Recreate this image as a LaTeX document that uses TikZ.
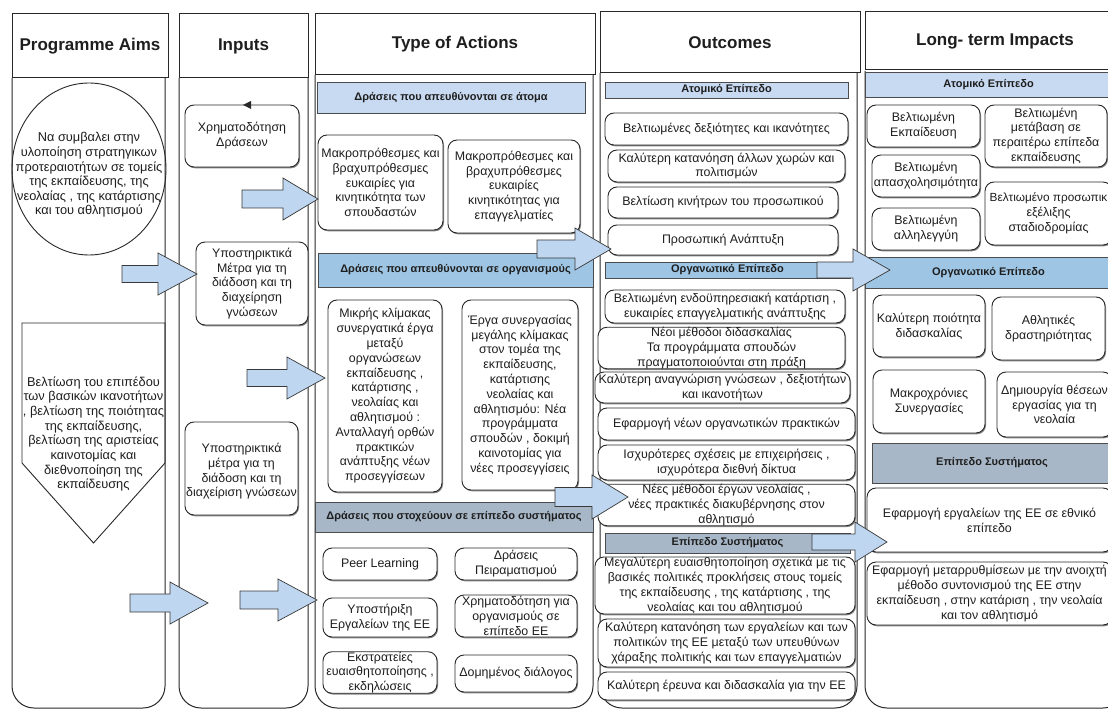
\documentclass[tikz,border=0pt]{standalone}
\usepackage{fontspec}
\setmainfont{Liberation Sans}
\usetikzlibrary{shadows,shapes.geometric}
\definecolor{barA}{RGB}{200,218,242}
\definecolor{barB}{RGB}{158,198,228}
\definecolor{barC}{RGB}{168,183,199}
\definecolor{arrF}{RGB}{190,214,240}
\definecolor{lineC}{RGB}{40,40,40}
\definecolor{txtC}{RGB}{30,30,30}
\tikzset{
  hdr/.style={draw=lineC, line width=1pt, text=txtC, font=\fontsize{17}{20}\selectfont\bfseries},
  colbody/.style={draw=lineC, line width=1pt, rounded corners=22pt},
  rb/.style={draw=lineC, line width=0.9pt, rounded corners=9pt, fill=white, align=center, inner sep=0pt, text=txtC,
    font=\fontsize{12.4}{14.8}\selectfont,
    drop shadow={shadow xshift=1pt,shadow yshift=-1.3pt,fill=black!60,opacity=.8}},
  bar/.style={draw=gray!60!black, line width=0.6pt, inner sep=0pt, text=txtC,
    font=\fontsize{11}{12}\selectfont\bfseries,
    drop shadow={shadow xshift=1pt,shadow yshift=-1.3pt,fill=black!50,opacity=.6}},
  barr/.style={draw=gray!45!black, line width=0.7pt, fill=arrF, line join=miter},
  plain/.style={draw=lineC, line width=0.9pt},
  ptext/.style={align=center, text=txtC, font=\fontsize{12.8}{14.6}\selectfont},
}
\newcommand\bx[6]{\node[rb, minimum width={(#4)-(#2)}, minimum height={(#5)-(#3)}] (#1) at ({((#2)+(#4))/2},{((#3)+(#5))/2}) {#6};}
\newcommand\br[7]{\node[bar, fill=#7, minimum width={(#4)-(#2)}, minimum height={(#5)-(#3)}] (#1) at ({((#2)+(#4))/2},{((#3)+(#5))/2}) {#6};}
\newcommand\blockarrow[6]{\draw[barr] (#1,#4-#5) -- (#2,#4-#5) -- (#2,#4-#6) -- (#3,#4) -- (#2,#4+#6) -- (#2,#4+#5) -- (#1,#4+#5) -- cycle;}
\begin{document}
\begin{tikzpicture}[x=1pt,y=-1pt]
\useasboundingbox[fill=white] (0,0) rectangle (1108,711);
% column headers
\node[hdr, minimum width=156, minimum height=64] (h1) at (90,46) {Programme Aims};
\node[hdr, minimum width=129, minimum height=64] (h2) at (243.5,46) {Inputs};
\node[hdr, minimum width=280, minimum height=61] (h3) at (455,44.5) {Type of Actions};
\node[hdr, minimum width=260, minimum height=61] (h4) at (730,42.5) {Outcomes};
\node[hdr, minimum width=260, minimum height=58] (h5) at (995,41) {Long- term Impacts};
% column bodies
\draw[colbody] (12,78) -- (12,708) -- (165,708) -- (165,78);
\draw[colbody] (179,78) -- (179,708) -- (308,708) -- (308,78);
\draw[colbody] (315,75) -- (315,708) -- (593,708) -- (593,75);
\draw[colbody] (600,73) -- (600,708) -- (857,708) -- (857,73);
\draw[colbody] (865,71) -- (865,708) -- (1125,708) -- (1125,71);
% programme aims
\node[plain, ellipse, minimum width=154, minimum height=172, inner sep=0pt] (aim1) at (89,169) {};
\node[ptext] (aim1t) at (89,175) {Να συμβαλει στην\\υλοποίηση στρατηγικων\\προτεραιοτήτων σε τομείς\\της εκπαίδευσης, της\\νεολαίας , της κατάρτισης\\και του αθλητισμού};
\draw[plain] (22,323) -- (165,323) -- (165,463) -- (93.5,543) -- (22,463) -- cycle;
\node[ptext] (aim2t) at (93.5,434) {Βελτίωση του επιπέδου\\των βασικών ικανοτήτων\\, βελτίωση της ποιότητας\\της εκπαίδευσης,\\βελτίωση της αριστείας\\καινοτομίας και\\διεθνοποίηση της\\εκπαίδευσης};
% inputs
\bx{in1}{185}{105}{299}{167}{Χρηματοδότηση\\Δράσεων}
\fill[lineC] (243,105) -- (251,101) -- (251,109) -- cycle;
\bx{in2}{196}{242}{308}{325}{Υποστηρικτικά\\Μέτρα για τη\\διάδοση και τη\\διαχείρηση\\γνώσεων}
\bx{in3}{185}{422}{298}{515}{\rule{0pt}{6pt}\\[-6pt]Υποστηρικτικά\\μέτρα για τη\\διάδοση και τη\\διαχείριση γνώσεων}
% type of actions
\br{b1}{317}{82}{585}{113}{Δράσεις που απευθύνονται σε άτομα}{barA}
\bx{t1}{318}{135}{443}{230}{Μακροπρόθεσμες και\\βραχυπρόθεσμες\\ευκαιρίες για\\κινητικότητα των\\σπουδαστών}
\bx{t2}{448}{140}{580}{233}{Μακροπρόθεσμες και\\βραχυπρόθεσμες\\ευκαιρίες\\κινητικότητας για\\επαγγελματίες}
\br{b2}{318}{253}{593}{287}{Δράσεις που απευθύνονται σε οργανισμούς}{barB}
\bx{t3}{328}{300}{442}{492}{Μικρής κλίμακας\\συνεργατικά έργα\\μεταξύ\\οργανώσεων\\εκπαίδευσης ,\\κατάρτισης ,\\νεολαίας και\\αθλητισμού :\\Ανταλλαγή ορθών\\πρακτικών\\ανάπτυξης νέων\\προσεγγίσεων}
\bx{t4}{462}{300}{578}{490}{Έργα συνεργασίας\\μεγάλης κλίμακας\\στον τομέα της\\εκπαίδευσης,\\κατάρτισης\\νεολαίας και\\αθλητισμόυ: Νέα\\προγράμματα\\σπουδών , δοκιμή\\καινοτομίας για\\νέες προσεγγίσεις}
\br{b3}{315}{502}{593}{532}{Δράσεις που στοχεύουν σε επίπεδο συστήματος}{barC}
\bx{t5}{323}{548}{437}{580}{Peer Learning}
\bx{t6}{455}{548}{577}{580}{Δράσεις\\Πειραματισμού}
\bx{t7}{323}{598}{437}{637}{Υποστήριξη\\Εργαλείων της ΕΕ}
\bx{t8}{455}{595}{577}{637}{Χρηματοδότηση για\\οργανισμούς σε\\επίπεδο ΕΕ}
\bx{t9}{323}{652}{437}{693}{Εκστρατείες\\ευαισθητοποίησης ,\\εκδηλώσεις}
\bx{t10}{455}{655}{577}{692}{Δομημένος διάλογος}
% outcomes
\br{o0}{605}{82}{848}{98}{Ατομικό Επίπεδο}{barA}
\bx{o1}{605}{113}{848}{145}{Βελτιωμένες δεξιότητες και ικανότητες}
\bx{o2}{608}{150}{845}{182}{Καλύτερη κατανόηση άλλων χωρών και\\πολιτισμών}
\bx{o3}{608}{187}{838}{218}{Βελτίωση κινήτρων του προσωπικού}
\bx{o4}{608}{225}{838}{255}{Προσωπική Ανάπτυξη}
\br{o5}{605}{262}{850}{278}{Οργανωτικό Επίπεδο}{barB}
\bx{o6}{605}{290}{845}{323}{Βελτιωμένη ενδοϋπηρεσιακή κατάρτιση ,\\ευκαιρίες επαγγελματικής ανάπτυξης}
\bx{o7}{598}{328}{845}{368}{Νέοι μέθοδοι διδασκαλίας\\Τα προγράμματα σπουδών\\πραγματοποιούνται στη πράξη}
\bx{o8}{595}{372}{850}{403}{Καλύτερη αναγνώριση γνώσεων , δεξιοτήτων\\και ικανοτήτων}
\bx{o9}{598}{408}{855}{440}{Εφαρμογή νέων  οργανωτικών πρακτικών}
\bx{o10}{598}{445}{855}{480}{Ισχυρότερες σχέσεις με  επιχειρήσεις ,\\ισχυρότερα διεθνή δίκτυα}
\bx{o11}{598}{485}{855}{525}{Νέες μέθοδοι έργων νεολαίας ,\\νέες πρακτικές διακυβέρνησης στον\\αθλητισμό}
\br{o12}{605}{533}{850}{553}{Επίπεδο Συστήματος}{barC}
\bx{o13}{595}{557}{855}{614}{Μεγαλύτερη ευαισθητοποίηση σχετικά με τις\\βασικές πολιτικές προκλήσεις στους τομείς\\της εκπαίδευσης , της κατάρτισης , της\\νεολαίας και του αθλητισμού}
\bx{o14}{598}{619}{855}{667}{Καλύτερη κατανόηση των εργαλείων και των\\πολιτικών της ΕΕ μεταξύ των υπευθύνων\\χάραξης πολιτικής και των επαγγελματιών}
\bx{o15}{598}{672}{855}{700}{Καλύτερη έρευνα και διδασκαλία για την ΕΕ}
% long-term impacts
\br{l0}{865}{72}{1112}{97}{Ατομικό Επίπεδο}{barA}
\bx{l1}{867}{105}{980}{147}{Βελτιωμένη\\Εκπαίδευση}
\bx{l2}{985}{105}{1107}{167}{Βελτιωμένη\\μετάβαση σε\\περαιτέρω επίπεδα\\εκπαίδευσης}
\bx{l3}{872}{155}{980}{197}{Βελτιωμένη\\απασχολησιμότητα}
\bx{l4}{985}{182}{1112}{245}{\fontsize{11.8}{14.8}\selectfont Βελτιωμένο προσωπικ\\εξέλιξης\\σταδιοδρομίας}
\bx{l5}{872}{208}{980}{250}{Βελτιωμένη\\αλληλεγγύη}
\br{l6}{865}{257}{1112}{288}{Οργανωτικό Επίπεδο}{barB}
\bx{l7}{873}{295}{985}{357}{Καλύτερη ποιότητα\\διδασκαλίας}
\bx{l8}{992}{297}{1105}{360}{Αθλητικές\\δραστηριότητας}
\bx{l9}{873}{370}{985}{433}{Μακροχρόνιες\\Συνεργασίες}
\bx{l10}{997}{372}{1112}{437}{Δημιουργία θέσεων\\εργασίας για τη\\νεολαία}
\br{l11}{872}{443}{1112}{483}{Επίπεδο Συστήματος}{barC}
\bx{l12}{867}{488}{1112}{552}{Εφαρμογή εργαλείων της ΕΕ σε εθνικό\\επίπεδο}
\bx{l13}{867}{562}{1112}{625}{Εφαρμογή μεταρρυθμίσεων με την ανοιχτή\\μέθοδο  συντονισμού της ΕΕ στην\\εκπαίδευση , στην κατάριση , την νεολαία\\και τον αθλητισμό}
% block arrows
\blockarrow{122}{158}{197}{274}{8.5}{21}
\blockarrow{242}{283}{318}{199}{9}{21}
\blockarrow{247}{287}{325}{378}{8.5}{21}
\blockarrow{130}{170}{208}{603}{9}{21}
\blockarrow{240}{278}{317}{600}{9}{21}
\blockarrow{537}{575}{611}{249}{9}{21}
\blockarrow{817}{853}{890}{270}{8}{21}
\blockarrow{555}{592}{628}{497}{9.5}{22}
\blockarrow{812}{855}{887}{542}{8}{20}
\end{tikzpicture}
\end{document}
